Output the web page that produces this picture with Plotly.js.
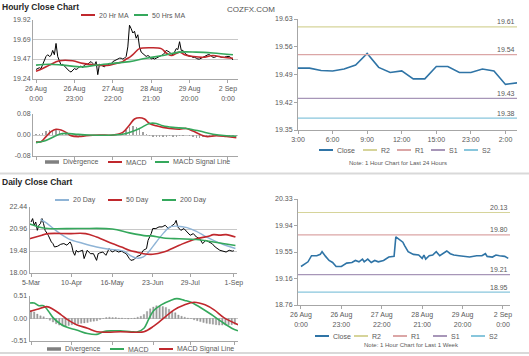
<!DOCTYPE html>
<html>
<head>
<meta charset="utf-8">
<script src="https://cdn.plot.ly/plotly-3.0.1.min.js"></script>
<style>html,body{margin:0;padding:0;background:#fff;}#chart{width:529px;height:356px;}</style>
</head>
<body>
<div id="chart"></div>
<script>
// ---------- DATA ----------
// Hourly close (last week, hourly index)
const hourTickIdx = [0, 23, 46, 69, 92, 115];
const hourTickText = ['26 Aug<br>0:00', '26 Aug<br>23:00', '27 Aug<br>22:00', '28 Aug<br>21:00', '29 Aug<br>20:00', '2 Sep<br>0:00'];
const hourClose = [19.35,19.36,19.37,19.36,19.41,19.44,19.50,19.52,19.50,19.51,19.57,19.52,19.65,19.50,19.44,19.40,19.41,19.39,19.36,19.34,
  19.33,19.32,19.34,19.36,19.35,19.36,19.38,19.39,19.37,19.40,19.41,19.41,19.43,19.44,19.42,19.40,19.44,19.29,19.41,19.40,
  19.39,19.38,19.40,19.40,19.42,19.41,19.44,19.45,19.46,19.47,19.48,19.48,19.47,19.48,19.50,19.61,19.86,19.82,19.77,19.79,
  19.71,19.75,19.61,19.55,19.53,19.51,19.50,19.51,19.50,19.47,19.48,19.47,19.48,19.49,19.50,19.51,19.52,19.54,19.57,19.56,
  19.55,19.53,19.52,19.55,19.59,19.58,19.67,19.57,19.57,19.54,19.52,19.51,19.50,19.50,19.49,19.49,19.48,19.47,19.47,19.48,
  19.49,19.50,19.51,19.52,19.52,19.50,19.49,19.49,19.50,19.50,19.50,19.49,19.49,19.49,19.50,19.50,19.50,19.48,19.46];
const ma20HrIdx = [0,4,8,14,22,28,36,44,48,52,54,56,58,60,62,68,75,78,81,86,89,94,100,106,112,118];
const ma20Hr = [19.33,19.36,19.40,19.45,19.45,19.42,19.40,19.40,19.42,19.44,19.47,19.49,19.52,19.56,19.59,19.60,19.59,19.54,19.51,19.55,19.52,19.50,19.49,19.51,19.49,19.48];
const ma50HrIdx = [0,8,16,28,36,46,56,66,76,86,96,106,118];
const ma50Hr = [19.40,19.41,19.40,19.38,19.40,19.42,19.44,19.48,19.51,19.55,19.55,19.54,19.52];
const macdHrIdx = [0,3,6,9,12,15,18,21,26,30,38,46,52,56,59,62,65,68,72,76,80,86,90,94,98,102,108,114,120];
const macdHr = [-0.026,-0.026,-0.006,0.013,0.022,0.019,0.010,-0.003,-0.006,-0.003,0.0,0.0,0.010,0.038,0.061,0.066,0.061,0.044,0.035,0.029,0.025,0.022,0.025,0.015,0.003,-0.006,-0.003,-0.006,-0.010];
const sigHrIdx = [0,5,11,14,18,24,32,46,54,62,68,72,76,82,90,98,106,114,120];
const sigHr = [-0.029,-0.023,-0.006,0.003,0.006,0.003,0.0,0.0,0.006,0.025,0.044,0.044,0.035,0.029,0.025,0.015,0.003,-0.003,-0.005];
const divHr = [0.003,0.003,0.008,0.014,0.018,0.020,0.018,0.015,0.008,0.004,-0.003,-0.005,-0.006,-0.005,-0.003,-0.002,0.0,0.0,0.001,0.0,
  0.0,0.0,0.0,0.001,0.002,0.004,0.008,0.018,0.030,0.036,0.030,0.022,0.012,0.004,-0.002,-0.006,-0.008,-0.008,-0.006,-0.006,
  -0.004,-0.006,-0.006,-0.004,-0.002,0.0,-0.004,-0.008,-0.010,-0.010,-0.008,-0.006,-0.004,-0.004,-0.002,-0.002,-0.002,-0.002,-0.003,-0.004,-0.004];

// Last 24 hours
const dayHourTickIdx = [0, 3, 6, 9, 12, 15, 18];
const dayHourTickText = ['3:00', '6:00', '9:00', '12:00', '15:00', '23:00', '2:00'];
const close24 = [19.506,19.506,19.500,19.499,19.504,19.514,19.543,19.508,19.495,19.499,19.479,19.479,19.510,19.510,19.495,19.495,19.504,19.499,19.465,19.469];
const levelNames = ['R2', 'R1', 'S1', 'S2'];
const levels24 = [19.61, 19.54, 19.43, 19.38];

// Last week (hourly)
const weekCloseIdx = [0,2,4,6,9,11,12,14,16,18,20,23,26,29,31,33,35,36,38,40,42,44,47,50,53,54,56,58,59,61,64,67,69,70,71,73,75,77,79,81,83,85,87,90,96,100,103,105,106,109,111,113,116,118];
const weekClose = [19.33,19.36,19.40,19.49,19.49,19.51,19.55,19.48,19.42,19.39,19.33,19.33,19.38,19.39,19.42,19.40,19.44,19.40,19.44,19.39,19.42,19.40,19.42,19.47,19.48,19.77,19.73,19.69,19.64,19.55,19.51,19.50,19.45,19.50,19.44,19.49,19.50,19.55,19.49,19.52,19.56,19.52,19.50,19.49,19.47,19.49,19.49,19.52,19.48,19.47,19.50,19.49,19.48,19.45];
const levelsWeek = [20.13, 19.80, 19.21, 18.95];

// Daily close
const dayTickIdx = [0, 26, 52, 78, 102, 130];
const dayTickText = ['5-Mar', '10-Apr', '16-May', '23-Jun', '29-Jul', '1-Sep'];
const dailyIdx = [0,1,2,3,4,5,6,7,8,9,11,12,13,14,15,17,19,21,23,25,26,27,28,29,30,31,33,34,36,38,40,42,43,44,46,48,50,52,54,56,58,60,61,63,64,66,68,70,72,74,75,77,78,80,82,84,86,88,90,92,93,94,96,98,100,102,104,106,108,110,112,114,116,118,120,121,123,125,127,129,130];
const dailyClose = [21.43,21.66,21.21,21.43,20.87,21.21,21.32,21.66,21.32,20.87,20.54,20.31,20.09,19.98,19.75,19.80,19.93,19.98,19.87,20.09,19.87,19.41,19.19,19.53,19.41,19.45,19.53,18.97,19.53,19.30,19.30,18.85,19.30,19.35,19.41,19.19,19.64,19.41,19.53,19.41,19.47,19.35,19.30,18.97,18.85,18.90,19.12,19.19,19.53,19.64,20.20,20.65,20.99,20.99,21.10,21.10,21.21,20.99,21.15,21.32,21.54,21.10,20.87,20.99,20.76,20.54,20.65,20.42,20.31,19.98,20.20,20.09,19.98,19.75,19.60,19.53,19.47,19.41,19.53,19.47,19.50];
const ma20DayIdx = [6,10,16,24,33,42,50,56,60,64,68,72,76,80,85,89,94,100,106,112,119,125,131];
const ma20Day = [21.60,21.35,20.85,20.30,20.00,19.75,19.60,19.55,19.45,19.15,19.00,19.08,19.50,20.05,20.70,21.10,21.15,21.05,20.80,20.45,20.10,19.85,19.65];
const ma50DayIdx = [-1,7,11,24,35,42,52,58,63,68,72,78,85,95,106,113,117,121,125,131];
const ma50Day = [20.31,20.54,20.65,20.65,20.65,20.42,19.98,19.75,19.53,19.40,19.30,19.26,19.41,19.87,20.31,20.45,20.58,20.55,20.58,20.42];
const ma200DayIdx = [-1,7,11,31,52,63,74,77,85,95,106,117,125,131];
const ma200Day = [21.30,21.05,20.99,20.99,20.96,20.70,20.50,20.50,20.35,20.30,20.25,20.09,19.95,19.85];
const macdDayIdx = [-1,2,5,8,11,14,19,23,29,36,42,46,51,57,64,68,72,75,78,83,89,93,98,102,108,115,121,128,132];
const macdDay = [0.35,0.35,0.29,0.29,0.17,0.02,-0.13,-0.20,-0.26,-0.34,-0.36,-0.30,-0.28,-0.28,-0.30,-0.30,-0.22,-0.02,0.17,0.31,0.41,0.45,0.41,0.37,0.25,0.09,-0.06,-0.22,-0.28];
const sigDayIdx = [-1,4,10,14,19,23,29,36,42,49,57,66,72,78,85,91,98,104,111,117,123,132];
const sigDay = [0.16,0.21,0.27,0.21,0.09,-0.02,-0.14,-0.22,-0.30,-0.31,-0.30,-0.31,-0.30,-0.18,0.02,0.19,0.31,0.37,0.31,0.19,0.02,-0.14];
const divDay = [0.18,0.15,0.10,0.06,0.04,0.0,-0.04,-0.08,-0.12,-0.15,-0.17,-0.18,-0.16,-0.14,-0.13,-0.12,-0.11,-0.10,-0.09,-0.07,
  -0.06,-0.05,-0.02,0.0,0.02,0.03,0.02,0.02,0.01,0.01,0.0,-0.01,0.0,0.01,0.03,0.05,0.09,0.16,0.22,0.26,
  0.29,0.29,0.27,0.25,0.21,0.17,0.13,0.08,0.05,0.03,0.01,0.0,-0.03,-0.05,-0.07,-0.09,-0.11,-0.12,-0.13,-0.14,
  -0.15,-0.15,-0.15,-0.14,-0.14,-0.13];

// ---------- STYLE / LAYOUT ----------
const W = 529, H = 356;
const FONT = 'Liberation Sans, Arial, sans-serif';
const TXT = '#595959';
const GRID = '#c8c8c8';
const AXL = '#a6a6a6';
const RED = '#c0282d', GREEN = '#35a85c', BLUE20 = '#8fb4d6', CLOSEBLUE = '#2f74a6', DIVGRAY = '#808080';
const levelColors = ['#d6d49a', '#dba6a6', '#a796b8', '#88c6dc'];
const px = (a, b) => [a / W, b / W];
const py = (top, bottom) => [1 - bottom / H, 1 - top / H];
const seq = (n, step) => Array.from({length: n}, (_, i) => i * step);

const hourRange = [-1.8, 121];
const dayRange = [-1, 132];
const weekRange = [-1.7, 119];
const r24Range = [0, close24.length - 1];

const traces = [];
function add(t) { t.showlegend = false; t.hoverinfo = 'skip'; traces.push(t); return t; }
// Panel 1: hourly close
add({x: seq(hourClose.length, 1), y: hourClose, type: 'scatter', mode: 'lines', name: 'Close', line: {color: '#000', width: 1}, xaxis: 'x', yaxis: 'y'});
const tMa20Hr = add({x: ma20HrIdx, y: ma20Hr, type: 'scatter', mode: 'lines', name: '20 Hr MA', line: {color: RED, width: 1.6, shape: 'spline'}, xaxis: 'x', yaxis: 'y'});
const tMa50Hr = add({x: ma50HrIdx, y: ma50Hr, type: 'scatter', mode: 'lines', name: '50 Hrs MA', line: {color: GREEN, width: 1.6, shape: 'spline'}, xaxis: 'x', yaxis: 'y'});
// Panel 2: hourly MACD
const tDivHr = add({x: seq(divHr.length, 2), y: divHr, type: 'bar', name: 'Divergence', marker: {color: '#a0a0a0'}, width: 0.8, xaxis: 'x2', yaxis: 'y2'});
const tMacdHr = add({x: macdHrIdx, y: macdHr, type: 'scatter', mode: 'lines', name: 'MACD', line: {color: RED, width: 1.6, shape: 'spline'}, xaxis: 'x2', yaxis: 'y2'});
const tSigHr = add({x: sigHrIdx, y: sigHr, type: 'scatter', mode: 'lines', name: 'MACD Signal Line', line: {color: GREEN, width: 1.6, shape: 'spline'}, xaxis: 'x2', yaxis: 'y2'});
// Panel 3: last 24 hours
const t24 = [add({x: seq(close24.length, 1), y: close24, type: 'scatter', mode: 'lines', name: 'Close', line: {color: CLOSEBLUE, width: 1.6}, xaxis: 'x3', yaxis: 'y3'})];
levelNames.forEach((n, i) => t24.push(add({x: r24Range, y: [levels24[i], levels24[i]], type: 'scatter', mode: 'lines', name: n, line: {color: levelColors[i], width: 1.2}, xaxis: 'x3', yaxis: 'y3'})));
// Panel 4: daily close
add({x: dailyIdx, y: dailyClose, type: 'scatter', mode: 'lines', name: 'Close', line: {color: '#000', width: 1}, xaxis: 'x4', yaxis: 'y4'});
const tMa20D = add({x: ma20DayIdx, y: ma20Day, type: 'scatter', mode: 'lines', name: '20 Day', line: {color: BLUE20, width: 1.4, shape: 'spline'}, xaxis: 'x4', yaxis: 'y4'});
const tMa50D = add({x: ma50DayIdx, y: ma50Day, type: 'scatter', mode: 'lines', name: '50 Day', line: {color: RED, width: 1.6, shape: 'spline'}, xaxis: 'x4', yaxis: 'y4'});
const tMa200D = add({x: ma200DayIdx, y: ma200Day, type: 'scatter', mode: 'lines', name: '200 Day', line: {color: GREEN, width: 1.6, shape: 'spline'}, xaxis: 'x4', yaxis: 'y4'});
// Panel 5: daily MACD
const tDivD = add({x: seq(divDay.length, 2), y: divDay, type: 'bar', name: 'Divergence', marker: {color: '#a0a0a0', line: {color: DIVGRAY, width: 0.3}}, width: 0.9, xaxis: 'x5', yaxis: 'y5'});
const tMacdD = add({x: macdDayIdx, y: macdDay, type: 'scatter', mode: 'lines', name: 'MACD', line: {color: GREEN, width: 1.6, shape: 'spline'}, xaxis: 'x5', yaxis: 'y5'});
const tSigD = add({x: sigDayIdx, y: sigDay, type: 'scatter', mode: 'lines', name: 'MACD Signal Line', line: {color: RED, width: 1.6, shape: 'spline'}, xaxis: 'x5', yaxis: 'y5'});
// Panel 6: last week
const tWeek = [add({x: weekCloseIdx, y: weekClose, type: 'scatter', mode: 'lines', name: 'Close', line: {color: CLOSEBLUE, width: 1.6}, xaxis: 'x6', yaxis: 'y6'})];
levelNames.forEach((n, i) => tWeek.push(add({x: weekRange, y: [levelsWeek[i], levelsWeek[i]], type: 'scatter', mode: 'lines', name: n, line: {color: levelColors[i], width: 1.2}, xaxis: 'x6', yaxis: 'y6'})));

const tf = {family: FONT, size: 7, color: TXT};
function xax(domain, range, tickvals, ticktext, anchor, showLabels) {
  return {domain, range, tickvals, ticktext, anchor, showticklabels: showLabels, tickfont: tf,
    showgrid: false, zeroline: false, showline: true, linecolor: AXL, linewidth: 1,
    ticks: 'outside', ticklen: 3, tickcolor: AXL, fixedrange: true};
}
function yax(domain, range, tickvals, ticktext, anchor, grid) {
  return {domain, range, tickvals, ticktext, anchor, tickfont: tf, showgrid: grid, gridcolor: GRID, gridwidth: 1,
    zeroline: false, showline: true, linecolor: AXL, linewidth: 1, ticks: grid ? '' : 'outside', ticklen: 3, tickcolor: AXL, fixedrange: true};
}

const annotations = [
  {text: '<b>Hourly Close Chart</b>', xref: 'paper', yref: 'paper', x: 0, y: 1 - 7 / H, xanchor: 'left', yanchor: 'middle', showarrow: false, font: {family: FONT, size: 8.5, color: '#262626'}},
  {text: '<b>Daily Close Chart</b>', xref: 'paper', yref: 'paper', x: 0, y: 1 - 182 / H, xanchor: 'left', yanchor: 'middle', showarrow: false, font: {family: FONT, size: 8.5, color: '#262626'}},
  {text: 'COZFX.COM', xref: 'paper', yref: 'paper', x: 251 / W, y: 1 - 9 / H, xanchor: 'center', yanchor: 'middle', showarrow: false, font: {family: FONT, size: 8, color: '#555'}},
  {text: 'Note: 1 Hour Chart for Last 24 Hours', xref: 'paper', yref: 'paper', x: 398 / W, y: 1 - 163 / H, xanchor: 'center', yanchor: 'middle', showarrow: false, font: {family: FONT, size: 6, color: TXT}},
  {text: 'Note: 1 Hour Chart for Last 1 Week', xref: 'paper', yref: 'paper', x: 411 / W, y: 1 - 345 / H, xanchor: 'center', yanchor: 'middle', showarrow: false, font: {family: FONT, size: 6, color: TXT}}
];
levels24.forEach(v => annotations.push({text: v.toFixed(2), xref: 'x3', yref: 'y3', x: r24Range[1], y: v, xanchor: 'right', yanchor: 'middle', yshift: 5, showarrow: false, font: {family: FONT, size: 7, color: TXT}}));
levelsWeek.forEach(v => annotations.push({text: v.toFixed(2), xref: 'x6', yref: 'y6', x: weekRange[1], y: v, xanchor: 'right', yanchor: 'middle', yshift: 5, showarrow: false, font: {family: FONT, size: 7, color: TXT}}));

const shapes = [
  {type: 'line', xref: 'paper', yref: 'paper', x0: 0, x1: 1, y0: 1 - 173.5 / H, y1: 1 - 173.5 / H, line: {color: '#d9d9d9', width: 2}},
  {type: 'line', xref: 'paper', yref: 'paper', x0: 0, x1: 1, y0: 1 - 353 / H, y1: 1 - 353 / H, line: {color: '#d9d9d9', width: 2}}
];

// Compact legends (sample line + label) matching the chart's legend rows
function legendRow(ypx, entries) {
  entries.forEach(([trace, sx]) => {
    const isBar = trace.type === 'bar';
    const color = isBar ? DIVGRAY : trace.line.color;
    const yy = 1 - ypx / H;
    shapes.push({type: 'line', xref: 'paper', yref: 'paper', x0: sx / W, x1: (sx + 14) / W, y0: yy, y1: yy,
      line: {color, width: isBar ? 3.5 : 2}});
    annotations.push({text: trace.name, xref: 'paper', yref: 'paper', x: (sx + 16) / W, y: yy, xanchor: 'left', yanchor: 'middle',
      showarrow: false, font: {family: FONT, size: 7, color: TXT}});
  });
}
legendRow(15, [[tMa20Hr, 81], [tMa50Hr, 134]]);
legendRow(162, [[tDivHr, 45], [tMacdHr, 108], [tSigHr, 155]]);
legendRow(150, t24.map((t, i) => [t, [319, 363, 397, 431, 464][i]]));
legendRow(200, [[tMa20D, 55], [tMa50D, 108], [tMa200D, 162]]);
legendRow(349, [[tDivD, 47], [tMacdD, 110], [tSigD, 159]]);
legendRow(336, tWeek.map((t, i) => [t, [315, 354, 393, 433, 471][i]]));

const layout = {
  width: W, height: H, autosize: false, showlegend: false,
  margin: {l: 0, r: 0, t: 0, b: 0, pad: 0},
  paper_bgcolor: '#fff', plot_bgcolor: '#fff',
  font: {family: FONT, size: 7, color: TXT},
  bargap: 0,
  xaxis: xax(px(33, 238), hourRange, hourTickIdx, hourTickText, 'y', true),
  yaxis: yax(py(20, 79), [19.24, 19.92], [19.24, 19.47, 19.69, 19.92], ['19.24', '19.47', '19.69', '19.92'], 'x', true),
  xaxis2: xax(px(33, 238), hourRange, hourTickIdx, hourTickText, 'y2', false),
  yaxis2: yax(py(114, 156), [-0.08, 0.08], [-0.08, 0, 0.08], ['-0.08', '0.00', '0.08'], 'x2', true),
  xaxis3: xax(px(298, 517), r24Range, dayHourTickIdx, dayHourTickText, 'y3', true),
  yaxis3: yax(py(19, 130), [19.35, 19.63], [19.35, 19.42, 19.49, 19.56, 19.63], ['19.35', '19.42', '19.49', '19.56', '19.63'], 'x3', false),
  xaxis4: xax(px(29.5, 237), dayRange, dayTickIdx, dayTickText, 'y4', true),
  yaxis4: yax(py(207, 273), [18.00, 22.44], [18.00, 19.48, 20.96, 22.44], ['18.00', '19.48', '20.96', '22.44'], 'x4', true),
  xaxis5: xax(px(29.5, 238), dayRange, dayTickIdx, dayTickText, 'y5', false),
  yaxis5: yax(py(296, 341), [-0.51, 0.51], [-0.51, 0, 0.51], ['-0.51', '0.00', '0.51'], 'x5', true),
  xaxis6: xax(px(298, 510), weekRange, hourTickIdx, hourTickText, 'y6', true),
  yaxis6: yax(py(199, 305), [18.76, 20.33], [18.76, 19.1525, 19.545, 19.9375, 20.33], ['18.76', '19.16', '19.55', '19.94', '20.33'], 'x6', false),
  annotations,
  shapes
};

Plotly.newPlot('chart', traces, layout, {staticPlot: true, displayModeBar: false});
</script>
</body>
</html>
